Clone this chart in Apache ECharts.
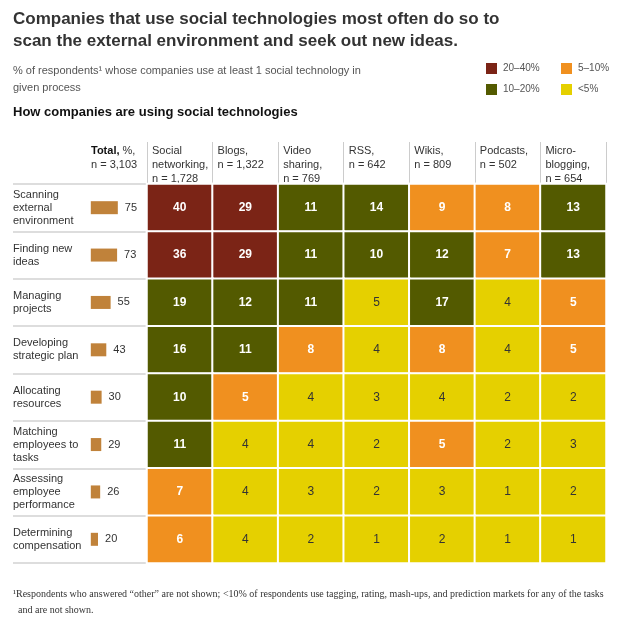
<!DOCTYPE html>
<html><head><meta charset="utf-8">
<script src="https://cdn.jsdelivr.net/npm/echarts@6/dist/echarts.min.js"></script>
<style>html,body{margin:0;padding:0;background:#fff}#c{width:640px;height:621px}</style>
</head><body><div id="c"></div>
<script>
const rows = ['Scanning\nexternal\nenvironment','Finding new\nideas','Managing\nprojects','Developing\nstrategic plan','Allocating\nresources','Matching\nemployees to\ntasks','Assessing\nemployee\nperformance','Determining\ncompensation'];
const totals = [75,73,55,43,30,29,26,20];
const columns = ['Social\nnetworking,\nn = 1,728','Blogs,\nn = 1,322','Video\nsharing,\nn = 769','RSS,\nn = 642','Wikis,\nn = 809','Podcasts,\nn = 502','Micro-\nblogging,\nn = 654'];
const values = [
 [40,29,11,14,9,8,13],
 [36,29,11,10,12,7,13],
 [19,12,11,4.9,17,4,5],
 [16,11,8,4,8,4,5],
 [10,5,4,3,4,2,2],
 [11,4,4,2,5,2,3],
 [7,4,3,2,3,1,2],
 [6,4,2,1,2,1,1]
];
const legendItems = [['20–40%','#7b2416'],['10–20%','#535a00'],['5–10%','#f0901f'],['<5%','#e5d000']];
function colorOf(v){return v>=20?'#7b2416':v>=10?'#535a00':v>=5?'#f0901f':'#e5d000';}
const FONT='"Liberation Sans", Arial, sans-serif';
const data=[];
values.forEach((r,i)=>r.forEach((v,j)=>{
  const y=v<5;
  data.push({value:[j,i,v],itemStyle:{color:colorOf(v)},label:{color:y?'#333':'#fff',fontWeight:y?'normal':'bold'}});
}));
const gtop=184,gh=379;
const graphic=[
 {type:'text',left:13,top:8,style:{text:'Companies that use social technologies most often do so to\nscan the external environment and seek out new ideas.',font:'bold 17px '+FONT,fill:'#333',lineHeight:22}},
 {type:'text',left:13,top:62,style:{text:'% of respondents¹ whose companies use at least 1 social technology in\ngiven process',font:'11px '+FONT,fill:'#555',lineHeight:17}},
 {type:'text',left:13,top:106,style:{text:'How companies are using social technologies',font:'bold 13px '+FONT,fill:'#111'}},
 {type:'text',left:91,top:144,style:{text:'{b|Total,} %,\nn = 3,103',font:'11px '+FONT,fill:'#333',lineHeight:14,rich:{b:{fontWeight:'bold',fontSize:11,fill:'#111'}}}},
 {type:'text',left:13,top:586,style:{text:'¹Respondents who answered “other” are not shown; <10% of respondents use tagging, rating, mash-ups, and prediction markets for any of the tasks\n  and are not shown.',font:'10px "Liberation Serif", serif',fill:'#333',lineHeight:16}}
];
legendItems.forEach((it,k)=>{
  const x=k<2?486:561, y=k%2===0?63:84;
  graphic.push({type:'rect',shape:{x:x,y:y,width:11,height:11},style:{fill:it[1]}});
  graphic.push({type:'text',x:x+17,y:y,style:{text:it[0],font:'10px '+FONT,fill:'#555'}});
});
const opt={
 animation:false,
 textStyle:{fontFamily:FONT},
 graphic:graphic,
 grid:[{left:147,right:34,top:gtop,height:gh},{left:13,width:134,top:gtop,height:gh}],
 xAxis:[
  {type:'category',gridIndex:0,data:columns,position:'top',show:false},
  {type:'category',gridIndex:0,data:columns.concat(['']),boundaryGap:false,position:'top',
   axisLine:{show:false},axisTick:{show:true,interval:0,length:42,lineStyle:{color:'#ccc'}},
   axisLabel:{interval:0,align:'left',verticalAlign:'top',margin:40,padding:[0,0,0,5],fontSize:11,color:'#333',lineHeight:14}},
  {type:'value',gridIndex:1,min:-216,max:156,show:false}
 ],
 yAxis:[
  {type:'category',gridIndex:0,data:rows,inverse:true,show:false},
  {type:'category',gridIndex:1,data:rows,inverse:true,axisLine:{show:false},axisTick:{show:false},
   splitLine:{show:true,interval:0,lineStyle:{color:'#ddd',width:2}},
   axisLabel:{inside:true,margin:0,align:'left',fontSize:11,color:'#333',lineHeight:13}}
 ],
 series:[
  {type:'heatmap',xAxisIndex:0,yAxisIndex:0,data:data,
   itemStyle:{borderColor:'#fff',borderWidth:2},
   label:{show:true,fontSize:12,formatter:p=>Math.round(p.value[2])}},
  {type:'bar',xAxisIndex:2,yAxisIndex:1,data:totals,barWidth:13,itemStyle:{color:'#c0823a'},
   label:{show:true,position:'right',distance:7,fontSize:11,color:'#333'}}
 ]
};
echarts.init(document.getElementById('c')).setOption(opt);
</script></body></html>
